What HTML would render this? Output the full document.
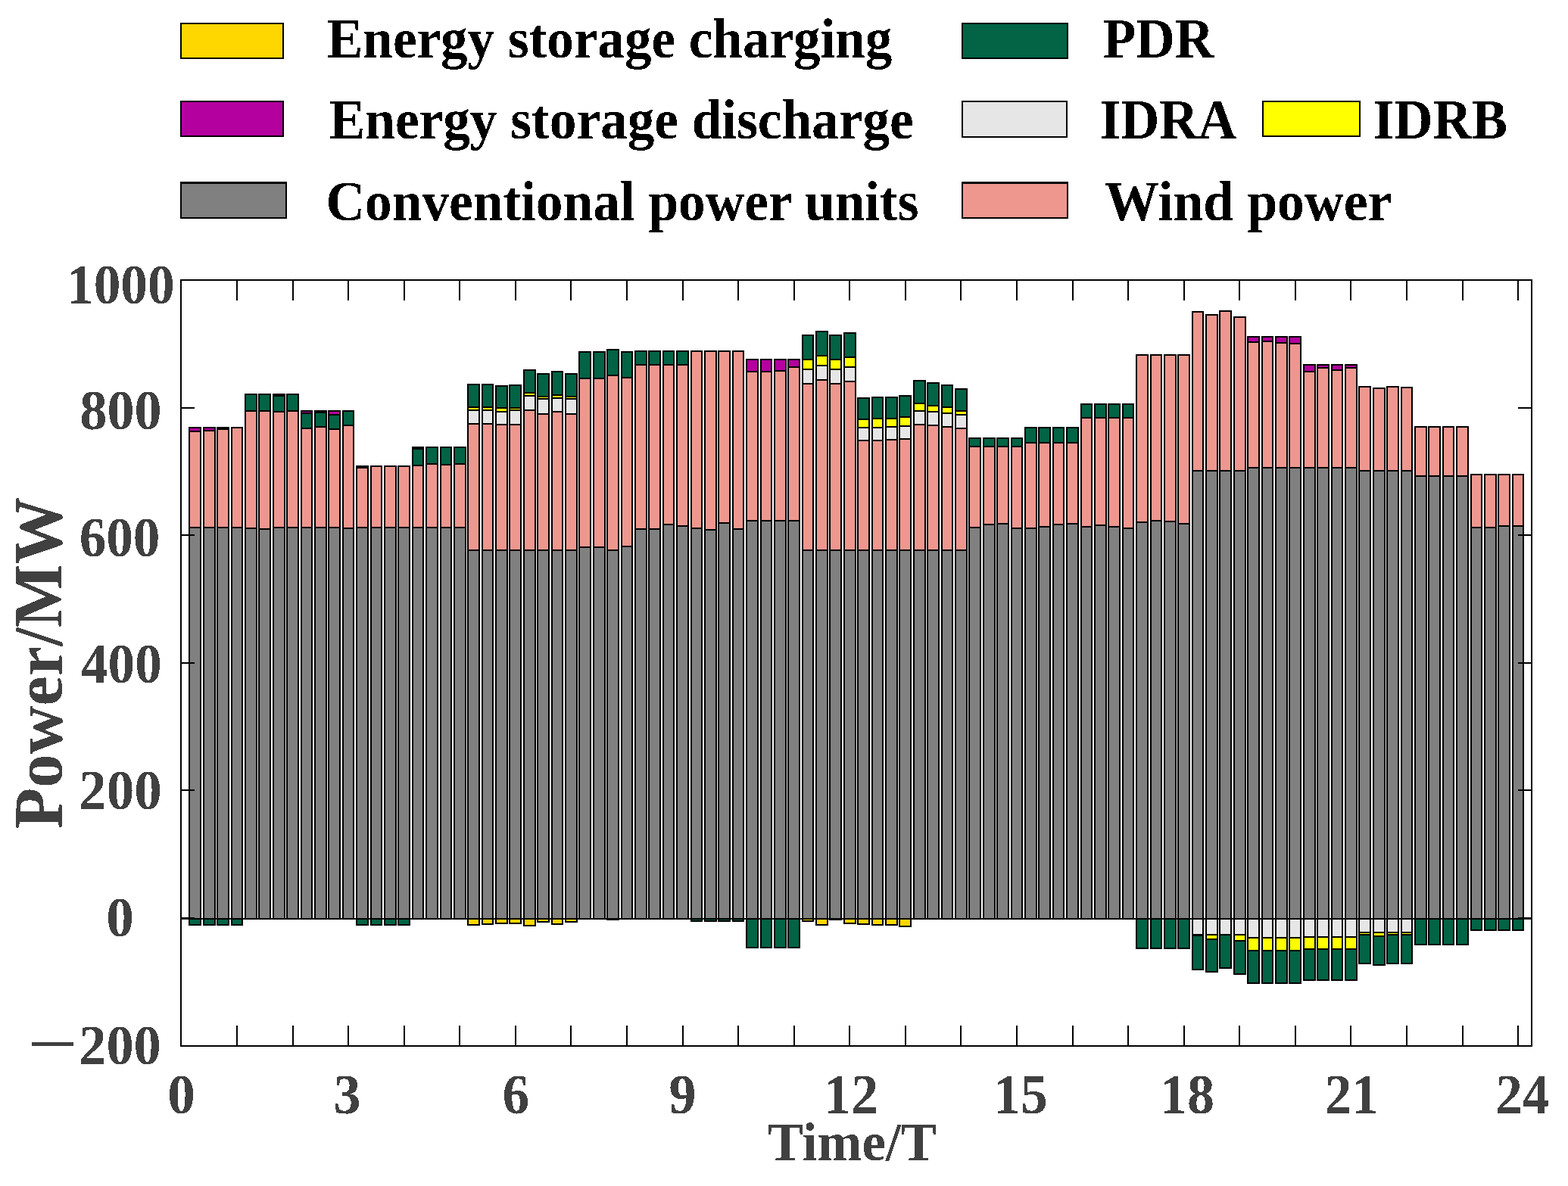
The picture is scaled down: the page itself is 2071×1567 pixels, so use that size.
<!DOCTYPE html>
<html><head><meta charset="utf-8"><style>
html,body{margin:0;padding:0;background:#fff;}
svg{display:block;}
text{font-family:"Liberation Serif",serif;font-weight:bold;}
</style></head><body>
<svg width="2071" height="1567" viewBox="0 0 2071 1567">
<rect x="0" y="0" width="2071" height="1567" fill="#fff"/>
<line x1="239" y1="1213.5" x2="2023" y2="1213.5" stroke="#1a1a1a" stroke-width="2" shape-rendering="crispEdges"/>
<g stroke="#000" stroke-width="2" shape-rendering="crispEdges">
<rect x="250.44" y="696.60" width="14.71" height="516.90" fill="#808080"/>
<rect x="268.83" y="696.60" width="14.71" height="516.90" fill="#808080"/>
<rect x="287.22" y="696.60" width="14.71" height="516.90" fill="#808080"/>
<rect x="305.61" y="696.60" width="14.71" height="516.90" fill="#808080"/>
<rect x="324.01" y="697.70" width="14.71" height="515.80" fill="#808080"/>
<rect x="342.40" y="698.80" width="14.71" height="514.70" fill="#808080"/>
<rect x="360.79" y="696.90" width="14.71" height="516.60" fill="#808080"/>
<rect x="379.18" y="697.40" width="14.71" height="516.10" fill="#808080"/>
<rect x="397.58" y="696.90" width="14.71" height="516.60" fill="#808080"/>
<rect x="415.97" y="696.90" width="14.71" height="516.60" fill="#808080"/>
<rect x="434.36" y="696.90" width="14.71" height="516.60" fill="#808080"/>
<rect x="452.75" y="697.70" width="14.71" height="515.80" fill="#808080"/>
<rect x="471.15" y="696.80" width="14.71" height="516.70" fill="#808080"/>
<rect x="489.54" y="696.80" width="14.71" height="516.70" fill="#808080"/>
<rect x="507.93" y="696.80" width="14.71" height="516.70" fill="#808080"/>
<rect x="526.32" y="696.80" width="14.71" height="516.70" fill="#808080"/>
<rect x="544.72" y="696.80" width="14.71" height="516.70" fill="#808080"/>
<rect x="563.11" y="696.80" width="14.71" height="516.70" fill="#808080"/>
<rect x="581.50" y="696.80" width="14.71" height="516.70" fill="#808080"/>
<rect x="599.89" y="696.80" width="14.71" height="516.70" fill="#808080"/>
<rect x="618.29" y="726.60" width="14.71" height="486.90" fill="#808080"/>
<rect x="636.68" y="726.60" width="14.71" height="486.90" fill="#808080"/>
<rect x="655.07" y="726.60" width="14.71" height="486.90" fill="#808080"/>
<rect x="673.46" y="726.60" width="14.71" height="486.90" fill="#808080"/>
<rect x="691.86" y="726.60" width="14.71" height="486.90" fill="#808080"/>
<rect x="710.25" y="726.60" width="14.71" height="486.90" fill="#808080"/>
<rect x="728.64" y="726.60" width="14.71" height="486.90" fill="#808080"/>
<rect x="747.03" y="726.60" width="14.71" height="486.90" fill="#808080"/>
<rect x="765.43" y="723.00" width="14.71" height="490.50" fill="#808080"/>
<rect x="783.82" y="723.00" width="14.71" height="490.50" fill="#808080"/>
<rect x="802.21" y="726.60" width="14.71" height="486.90" fill="#808080"/>
<rect x="820.60" y="722.00" width="14.71" height="491.50" fill="#808080"/>
<rect x="839.00" y="698.50" width="14.71" height="515.00" fill="#808080"/>
<rect x="857.39" y="698.50" width="14.71" height="515.00" fill="#808080"/>
<rect x="875.78" y="692.80" width="14.71" height="520.70" fill="#808080"/>
<rect x="894.17" y="694.60" width="14.71" height="518.90" fill="#808080"/>
<rect x="912.57" y="698.00" width="14.71" height="515.50" fill="#808080"/>
<rect x="930.96" y="700.00" width="14.71" height="513.50" fill="#808080"/>
<rect x="949.35" y="690.70" width="14.71" height="522.80" fill="#808080"/>
<rect x="967.74" y="699.00" width="14.71" height="514.50" fill="#808080"/>
<rect x="986.14" y="687.80" width="14.71" height="525.70" fill="#808080"/>
<rect x="1004.53" y="687.80" width="14.71" height="525.70" fill="#808080"/>
<rect x="1022.92" y="687.80" width="14.71" height="525.70" fill="#808080"/>
<rect x="1041.31" y="687.80" width="14.71" height="525.70" fill="#808080"/>
<rect x="1059.71" y="727.10" width="14.71" height="486.40" fill="#808080"/>
<rect x="1078.10" y="727.10" width="14.71" height="486.40" fill="#808080"/>
<rect x="1096.49" y="727.10" width="14.71" height="486.40" fill="#808080"/>
<rect x="1114.88" y="727.00" width="14.71" height="486.50" fill="#808080"/>
<rect x="1133.28" y="727.00" width="14.71" height="486.50" fill="#808080"/>
<rect x="1151.67" y="727.00" width="14.71" height="486.50" fill="#808080"/>
<rect x="1170.06" y="727.00" width="14.71" height="486.50" fill="#808080"/>
<rect x="1188.45" y="727.00" width="14.71" height="486.50" fill="#808080"/>
<rect x="1206.85" y="727.00" width="14.71" height="486.50" fill="#808080"/>
<rect x="1225.24" y="727.00" width="14.71" height="486.50" fill="#808080"/>
<rect x="1243.63" y="727.00" width="14.71" height="486.50" fill="#808080"/>
<rect x="1262.02" y="727.00" width="14.71" height="486.50" fill="#808080"/>
<rect x="1280.42" y="697.00" width="14.71" height="516.50" fill="#808080"/>
<rect x="1298.81" y="692.60" width="14.71" height="520.90" fill="#808080"/>
<rect x="1317.20" y="691.90" width="14.71" height="521.60" fill="#808080"/>
<rect x="1335.59" y="698.00" width="14.71" height="515.50" fill="#808080"/>
<rect x="1353.99" y="697.80" width="14.71" height="515.70" fill="#808080"/>
<rect x="1372.38" y="696.00" width="14.71" height="517.50" fill="#808080"/>
<rect x="1390.77" y="693.20" width="14.71" height="520.30" fill="#808080"/>
<rect x="1409.16" y="692.00" width="14.71" height="521.50" fill="#808080"/>
<rect x="1427.56" y="696.00" width="14.71" height="517.50" fill="#808080"/>
<rect x="1445.95" y="694.00" width="14.71" height="519.50" fill="#808080"/>
<rect x="1464.34" y="695.60" width="14.71" height="517.90" fill="#808080"/>
<rect x="1482.73" y="697.80" width="14.71" height="515.70" fill="#808080"/>
<rect x="1501.13" y="690.20" width="14.71" height="523.30" fill="#808080"/>
<rect x="1519.52" y="688.20" width="14.71" height="525.30" fill="#808080"/>
<rect x="1537.91" y="689.00" width="14.71" height="524.50" fill="#808080"/>
<rect x="1556.30" y="692.00" width="14.71" height="521.50" fill="#808080"/>
<rect x="1574.70" y="622.40" width="14.71" height="591.10" fill="#808080"/>
<rect x="1593.09" y="621.80" width="14.71" height="591.70" fill="#808080"/>
<rect x="1611.48" y="622.40" width="14.71" height="591.10" fill="#808080"/>
<rect x="1629.87" y="621.60" width="14.71" height="591.90" fill="#808080"/>
<rect x="1648.27" y="617.50" width="14.71" height="596.00" fill="#808080"/>
<rect x="1666.66" y="617.50" width="14.71" height="596.00" fill="#808080"/>
<rect x="1685.05" y="617.50" width="14.71" height="596.00" fill="#808080"/>
<rect x="1703.44" y="617.50" width="14.71" height="596.00" fill="#808080"/>
<rect x="1721.84" y="617.50" width="14.71" height="596.00" fill="#808080"/>
<rect x="1740.23" y="617.50" width="14.71" height="596.00" fill="#808080"/>
<rect x="1758.62" y="617.50" width="14.71" height="596.00" fill="#808080"/>
<rect x="1777.01" y="617.50" width="14.71" height="596.00" fill="#808080"/>
<rect x="1795.41" y="621.70" width="14.71" height="591.80" fill="#808080"/>
<rect x="1813.80" y="621.70" width="14.71" height="591.80" fill="#808080"/>
<rect x="1832.19" y="621.70" width="14.71" height="591.80" fill="#808080"/>
<rect x="1850.58" y="621.70" width="14.71" height="591.80" fill="#808080"/>
<rect x="1868.98" y="628.70" width="14.71" height="584.80" fill="#808080"/>
<rect x="1887.37" y="629.40" width="14.71" height="584.10" fill="#808080"/>
<rect x="1905.76" y="628.70" width="14.71" height="584.80" fill="#808080"/>
<rect x="1924.15" y="629.40" width="14.71" height="584.10" fill="#808080"/>
<rect x="1942.55" y="696.50" width="14.71" height="517.00" fill="#808080"/>
<rect x="1960.94" y="696.50" width="14.71" height="517.00" fill="#808080"/>
<rect x="1979.33" y="694.80" width="14.71" height="518.70" fill="#808080"/>
<rect x="1997.72" y="694.80" width="14.71" height="518.70" fill="#808080"/>
<rect x="250.44" y="569.80" width="14.71" height="126.80" fill="#EE978F"/>
<rect x="268.83" y="568.80" width="14.71" height="127.80" fill="#EE978F"/>
<rect x="287.22" y="566.50" width="14.71" height="130.10" fill="#EE978F"/>
<rect x="305.61" y="564.90" width="14.71" height="131.70" fill="#EE978F"/>
<rect x="324.01" y="542.80" width="14.71" height="154.90" fill="#EE978F"/>
<rect x="342.40" y="542.80" width="14.71" height="156.00" fill="#EE978F"/>
<rect x="360.79" y="544.20" width="14.71" height="152.70" fill="#EE978F"/>
<rect x="379.18" y="542.80" width="14.71" height="154.60" fill="#EE978F"/>
<rect x="397.58" y="566.00" width="14.71" height="130.90" fill="#EE978F"/>
<rect x="415.97" y="564.20" width="14.71" height="132.70" fill="#EE978F"/>
<rect x="434.36" y="567.00" width="14.71" height="129.90" fill="#EE978F"/>
<rect x="452.75" y="562.10" width="14.71" height="135.60" fill="#EE978F"/>
<rect x="471.15" y="617.50" width="14.71" height="79.30" fill="#EE978F"/>
<rect x="489.54" y="616.10" width="14.71" height="80.70" fill="#EE978F"/>
<rect x="507.93" y="616.10" width="14.71" height="80.70" fill="#EE978F"/>
<rect x="526.32" y="616.10" width="14.71" height="80.70" fill="#EE978F"/>
<rect x="544.72" y="614.90" width="14.71" height="81.90" fill="#EE978F"/>
<rect x="563.11" y="613.00" width="14.71" height="83.80" fill="#EE978F"/>
<rect x="581.50" y="614.10" width="14.71" height="82.70" fill="#EE978F"/>
<rect x="599.89" y="613.00" width="14.71" height="83.80" fill="#EE978F"/>
<rect x="618.29" y="559.70" width="14.71" height="166.90" fill="#EE978F"/>
<rect x="636.68" y="559.70" width="14.71" height="166.90" fill="#EE978F"/>
<rect x="655.07" y="560.80" width="14.71" height="165.80" fill="#EE978F"/>
<rect x="673.46" y="560.70" width="14.71" height="165.90" fill="#EE978F"/>
<rect x="691.86" y="541.80" width="14.71" height="184.80" fill="#EE978F"/>
<rect x="710.25" y="546.60" width="14.71" height="180.00" fill="#EE978F"/>
<rect x="728.64" y="544.40" width="14.71" height="182.20" fill="#EE978F"/>
<rect x="747.03" y="546.60" width="14.71" height="180.00" fill="#EE978F"/>
<rect x="765.43" y="500.00" width="14.71" height="223.00" fill="#EE978F"/>
<rect x="783.82" y="500.00" width="14.71" height="223.00" fill="#EE978F"/>
<rect x="802.21" y="495.90" width="14.71" height="230.70" fill="#EE978F"/>
<rect x="820.60" y="499.00" width="14.71" height="223.00" fill="#EE978F"/>
<rect x="839.00" y="481.80" width="14.71" height="216.70" fill="#EE978F"/>
<rect x="857.39" y="481.80" width="14.71" height="216.70" fill="#EE978F"/>
<rect x="875.78" y="481.80" width="14.71" height="211.00" fill="#EE978F"/>
<rect x="894.17" y="482.00" width="14.71" height="212.60" fill="#EE978F"/>
<rect x="912.57" y="464.00" width="14.71" height="234.00" fill="#EE978F"/>
<rect x="930.96" y="464.00" width="14.71" height="236.00" fill="#EE978F"/>
<rect x="949.35" y="464.00" width="14.71" height="226.70" fill="#EE978F"/>
<rect x="967.74" y="464.00" width="14.71" height="235.00" fill="#EE978F"/>
<rect x="986.14" y="490.70" width="14.71" height="197.10" fill="#EE978F"/>
<rect x="1004.53" y="490.70" width="14.71" height="197.10" fill="#EE978F"/>
<rect x="1022.92" y="489.90" width="14.71" height="197.90" fill="#EE978F"/>
<rect x="1041.31" y="484.80" width="14.71" height="203.00" fill="#EE978F"/>
<rect x="1059.71" y="506.50" width="14.71" height="220.60" fill="#EE978F"/>
<rect x="1078.10" y="501.80" width="14.71" height="225.30" fill="#EE978F"/>
<rect x="1096.49" y="506.50" width="14.71" height="220.60" fill="#EE978F"/>
<rect x="1114.88" y="503.70" width="14.71" height="223.30" fill="#EE978F"/>
<rect x="1133.28" y="582.20" width="14.71" height="144.80" fill="#EE978F"/>
<rect x="1151.67" y="582.20" width="14.71" height="144.80" fill="#EE978F"/>
<rect x="1170.06" y="581.00" width="14.71" height="146.00" fill="#EE978F"/>
<rect x="1188.45" y="580.20" width="14.71" height="146.80" fill="#EE978F"/>
<rect x="1206.85" y="561.00" width="14.71" height="166.00" fill="#EE978F"/>
<rect x="1225.24" y="562.10" width="14.71" height="164.90" fill="#EE978F"/>
<rect x="1243.63" y="563.90" width="14.71" height="163.10" fill="#EE978F"/>
<rect x="1262.02" y="565.80" width="14.71" height="161.20" fill="#EE978F"/>
<rect x="1280.42" y="590.00" width="14.71" height="107.00" fill="#EE978F"/>
<rect x="1298.81" y="590.00" width="14.71" height="102.60" fill="#EE978F"/>
<rect x="1317.20" y="590.00" width="14.71" height="101.90" fill="#EE978F"/>
<rect x="1335.59" y="589.50" width="14.71" height="108.50" fill="#EE978F"/>
<rect x="1353.99" y="584.90" width="14.71" height="112.90" fill="#EE978F"/>
<rect x="1372.38" y="584.90" width="14.71" height="111.10" fill="#EE978F"/>
<rect x="1390.77" y="584.90" width="14.71" height="108.30" fill="#EE978F"/>
<rect x="1409.16" y="584.90" width="14.71" height="107.10" fill="#EE978F"/>
<rect x="1427.56" y="551.70" width="14.71" height="144.30" fill="#EE978F"/>
<rect x="1445.95" y="551.70" width="14.71" height="142.30" fill="#EE978F"/>
<rect x="1464.34" y="551.70" width="14.71" height="143.90" fill="#EE978F"/>
<rect x="1482.73" y="551.70" width="14.71" height="146.10" fill="#EE978F"/>
<rect x="1501.13" y="469.10" width="14.71" height="221.10" fill="#EE978F"/>
<rect x="1519.52" y="469.10" width="14.71" height="219.10" fill="#EE978F"/>
<rect x="1537.91" y="469.10" width="14.71" height="219.90" fill="#EE978F"/>
<rect x="1556.30" y="469.10" width="14.71" height="222.90" fill="#EE978F"/>
<rect x="1574.70" y="411.80" width="14.71" height="210.60" fill="#EE978F"/>
<rect x="1593.09" y="415.90" width="14.71" height="205.90" fill="#EE978F"/>
<rect x="1611.48" y="410.90" width="14.71" height="211.50" fill="#EE978F"/>
<rect x="1629.87" y="418.80" width="14.71" height="202.80" fill="#EE978F"/>
<rect x="1648.27" y="452.10" width="14.71" height="165.40" fill="#EE978F"/>
<rect x="1666.66" y="450.80" width="14.71" height="166.70" fill="#EE978F"/>
<rect x="1685.05" y="452.80" width="14.71" height="164.70" fill="#EE978F"/>
<rect x="1703.44" y="453.90" width="14.71" height="163.60" fill="#EE978F"/>
<rect x="1721.84" y="490.80" width="14.71" height="126.70" fill="#EE978F"/>
<rect x="1740.23" y="486.10" width="14.71" height="131.40" fill="#EE978F"/>
<rect x="1758.62" y="488.80" width="14.71" height="128.70" fill="#EE978F"/>
<rect x="1777.01" y="486.10" width="14.71" height="131.40" fill="#EE978F"/>
<rect x="1795.41" y="510.80" width="14.71" height="110.90" fill="#EE978F"/>
<rect x="1813.80" y="512.90" width="14.71" height="108.80" fill="#EE978F"/>
<rect x="1832.19" y="510.80" width="14.71" height="110.90" fill="#EE978F"/>
<rect x="1850.58" y="511.70" width="14.71" height="110.00" fill="#EE978F"/>
<rect x="1868.98" y="563.90" width="14.71" height="64.80" fill="#EE978F"/>
<rect x="1887.37" y="563.90" width="14.71" height="65.50" fill="#EE978F"/>
<rect x="1905.76" y="563.90" width="14.71" height="64.80" fill="#EE978F"/>
<rect x="1924.15" y="563.90" width="14.71" height="65.50" fill="#EE978F"/>
<rect x="1942.55" y="626.80" width="14.71" height="69.70" fill="#EE978F"/>
<rect x="1960.94" y="626.80" width="14.71" height="69.70" fill="#EE978F"/>
<rect x="1979.33" y="626.80" width="14.71" height="68.00" fill="#EE978F"/>
<rect x="1997.72" y="626.80" width="14.71" height="68.00" fill="#EE978F"/>
<rect x="618.29" y="542.00" width="14.71" height="17.70" fill="#E6E6E6"/>
<rect x="636.68" y="541.70" width="14.71" height="18.00" fill="#E6E6E6"/>
<rect x="655.07" y="543.60" width="14.71" height="17.20" fill="#E6E6E6"/>
<rect x="673.46" y="542.20" width="14.71" height="18.50" fill="#E6E6E6"/>
<rect x="691.86" y="523.30" width="14.71" height="18.50" fill="#E6E6E6"/>
<rect x="710.25" y="527.40" width="14.71" height="19.20" fill="#E6E6E6"/>
<rect x="728.64" y="525.50" width="14.71" height="18.90" fill="#E6E6E6"/>
<rect x="747.03" y="527.40" width="14.71" height="19.20" fill="#E6E6E6"/>
<rect x="1059.71" y="487.90" width="14.71" height="18.60" fill="#E6E6E6"/>
<rect x="1078.10" y="483.40" width="14.71" height="18.40" fill="#E6E6E6"/>
<rect x="1096.49" y="487.90" width="14.71" height="18.60" fill="#E6E6E6"/>
<rect x="1114.88" y="485.00" width="14.71" height="18.70" fill="#E6E6E6"/>
<rect x="1133.28" y="565.00" width="14.71" height="17.20" fill="#E6E6E6"/>
<rect x="1151.67" y="565.00" width="14.71" height="17.20" fill="#E6E6E6"/>
<rect x="1170.06" y="563.90" width="14.71" height="17.10" fill="#E6E6E6"/>
<rect x="1188.45" y="562.90" width="14.71" height="17.30" fill="#E6E6E6"/>
<rect x="1206.85" y="543.00" width="14.71" height="18.00" fill="#E6E6E6"/>
<rect x="1225.24" y="543.90" width="14.71" height="18.20" fill="#E6E6E6"/>
<rect x="1243.63" y="545.80" width="14.71" height="18.10" fill="#E6E6E6"/>
<rect x="1262.02" y="547.80" width="14.71" height="18.00" fill="#E6E6E6"/>
<rect x="618.29" y="538.00" width="14.71" height="4.00" fill="#FFFF00"/>
<rect x="636.68" y="538.00" width="14.71" height="3.70" fill="#FFFF00"/>
<rect x="655.07" y="539.00" width="14.71" height="4.60" fill="#FFFF00"/>
<rect x="673.46" y="538.80" width="14.71" height="3.40" fill="#FFFF00"/>
<rect x="691.86" y="518.50" width="14.71" height="4.80" fill="#FFFF00"/>
<rect x="710.25" y="523.60" width="14.71" height="3.80" fill="#FFFF00"/>
<rect x="728.64" y="521.80" width="14.71" height="3.70" fill="#FFFF00"/>
<rect x="747.03" y="523.60" width="14.71" height="3.80" fill="#FFFF00"/>
<rect x="1059.71" y="474.90" width="14.71" height="13.00" fill="#FFFF00"/>
<rect x="1078.10" y="470.10" width="14.71" height="13.30" fill="#FFFF00"/>
<rect x="1096.49" y="474.90" width="14.71" height="13.00" fill="#FFFF00"/>
<rect x="1114.88" y="472.10" width="14.71" height="12.90" fill="#FFFF00"/>
<rect x="1133.28" y="553.80" width="14.71" height="11.20" fill="#FFFF00"/>
<rect x="1151.67" y="553.00" width="14.71" height="12.00" fill="#FFFF00"/>
<rect x="1170.06" y="553.00" width="14.71" height="10.90" fill="#FFFF00"/>
<rect x="1188.45" y="551.00" width="14.71" height="11.90" fill="#FFFF00"/>
<rect x="1206.85" y="533.10" width="14.71" height="9.90" fill="#FFFF00"/>
<rect x="1225.24" y="535.80" width="14.71" height="8.10" fill="#FFFF00"/>
<rect x="1243.63" y="538.20" width="14.71" height="7.60" fill="#FFFF00"/>
<rect x="1262.02" y="543.00" width="14.71" height="4.80" fill="#FFFF00"/>
<rect x="324.01" y="520.80" width="14.71" height="22.00" fill="#026345"/>
<rect x="342.40" y="520.80" width="14.71" height="22.00" fill="#026345"/>
<rect x="360.79" y="522.50" width="14.71" height="21.70" fill="#026345"/>
<rect x="379.18" y="520.80" width="14.71" height="22.00" fill="#026345"/>
<rect x="397.58" y="545.90" width="14.71" height="20.10" fill="#026345"/>
<rect x="415.97" y="544.60" width="14.71" height="19.60" fill="#026345"/>
<rect x="434.36" y="547.70" width="14.71" height="19.30" fill="#026345"/>
<rect x="452.75" y="542.80" width="14.71" height="19.30" fill="#026345"/>
<rect x="544.72" y="592.50" width="14.71" height="22.40" fill="#026345"/>
<rect x="563.11" y="591.10" width="14.71" height="21.90" fill="#026345"/>
<rect x="581.50" y="591.10" width="14.71" height="23.00" fill="#026345"/>
<rect x="599.89" y="591.10" width="14.71" height="21.90" fill="#026345"/>
<rect x="618.29" y="508.00" width="14.71" height="30.00" fill="#026345"/>
<rect x="636.68" y="508.00" width="14.71" height="30.00" fill="#026345"/>
<rect x="655.07" y="509.60" width="14.71" height="29.40" fill="#026345"/>
<rect x="673.46" y="508.80" width="14.71" height="30.00" fill="#026345"/>
<rect x="691.86" y="488.90" width="14.71" height="29.60" fill="#026345"/>
<rect x="710.25" y="493.90" width="14.71" height="29.70" fill="#026345"/>
<rect x="728.64" y="490.70" width="14.71" height="31.10" fill="#026345"/>
<rect x="747.03" y="493.90" width="14.71" height="29.70" fill="#026345"/>
<rect x="765.43" y="464.80" width="14.71" height="35.20" fill="#026345"/>
<rect x="783.82" y="464.80" width="14.71" height="35.20" fill="#026345"/>
<rect x="802.21" y="462.00" width="14.71" height="33.90" fill="#026345"/>
<rect x="820.60" y="464.80" width="14.71" height="34.20" fill="#026345"/>
<rect x="839.00" y="463.90" width="14.71" height="17.90" fill="#026345"/>
<rect x="857.39" y="463.90" width="14.71" height="17.90" fill="#026345"/>
<rect x="875.78" y="463.90" width="14.71" height="17.90" fill="#026345"/>
<rect x="894.17" y="464.20" width="14.71" height="17.80" fill="#026345"/>
<rect x="1059.71" y="443.20" width="14.71" height="31.70" fill="#026345"/>
<rect x="1078.10" y="438.30" width="14.71" height="31.80" fill="#026345"/>
<rect x="1096.49" y="443.20" width="14.71" height="31.70" fill="#026345"/>
<rect x="1114.88" y="440.20" width="14.71" height="31.90" fill="#026345"/>
<rect x="1133.28" y="525.90" width="14.71" height="27.90" fill="#026345"/>
<rect x="1151.67" y="524.80" width="14.71" height="28.20" fill="#026345"/>
<rect x="1170.06" y="524.80" width="14.71" height="28.20" fill="#026345"/>
<rect x="1188.45" y="523.00" width="14.71" height="28.00" fill="#026345"/>
<rect x="1206.85" y="502.80" width="14.71" height="30.30" fill="#026345"/>
<rect x="1225.24" y="506.00" width="14.71" height="29.80" fill="#026345"/>
<rect x="1243.63" y="508.80" width="14.71" height="29.40" fill="#026345"/>
<rect x="1262.02" y="513.90" width="14.71" height="29.10" fill="#026345"/>
<rect x="1280.42" y="578.90" width="14.71" height="11.10" fill="#026345"/>
<rect x="1298.81" y="578.90" width="14.71" height="11.10" fill="#026345"/>
<rect x="1317.20" y="578.90" width="14.71" height="11.10" fill="#026345"/>
<rect x="1335.59" y="579.00" width="14.71" height="10.50" fill="#026345"/>
<rect x="1353.99" y="565.00" width="14.71" height="19.90" fill="#026345"/>
<rect x="1372.38" y="565.00" width="14.71" height="19.90" fill="#026345"/>
<rect x="1390.77" y="565.00" width="14.71" height="19.90" fill="#026345"/>
<rect x="1409.16" y="565.00" width="14.71" height="19.90" fill="#026345"/>
<rect x="1427.56" y="534.10" width="14.71" height="17.60" fill="#026345"/>
<rect x="1445.95" y="534.10" width="14.71" height="17.60" fill="#026345"/>
<rect x="1464.34" y="534.10" width="14.71" height="17.60" fill="#026345"/>
<rect x="1482.73" y="534.10" width="14.71" height="17.60" fill="#026345"/>
<rect x="250.44" y="564.90" width="14.71" height="4.90" fill="#B4009E"/>
<rect x="268.83" y="564.90" width="14.71" height="3.90" fill="#B4009E"/>
<rect x="287.22" y="565.20" width="14.71" height="1.30" fill="#B4009E"/>
<rect x="360.79" y="521.10" width="14.71" height="1.40" fill="#B4009E"/>
<rect x="397.58" y="542.80" width="14.71" height="3.10" fill="#B4009E"/>
<rect x="415.97" y="542.80" width="14.71" height="1.80" fill="#B4009E"/>
<rect x="434.36" y="542.80" width="14.71" height="4.90" fill="#B4009E"/>
<rect x="471.15" y="616.10" width="14.71" height="1.40" fill="#B4009E"/>
<rect x="544.72" y="591.10" width="14.71" height="1.40" fill="#B4009E"/>
<rect x="986.14" y="475.10" width="14.71" height="15.60" fill="#B4009E"/>
<rect x="1004.53" y="475.10" width="14.71" height="15.60" fill="#B4009E"/>
<rect x="1022.92" y="475.10" width="14.71" height="14.80" fill="#B4009E"/>
<rect x="1041.31" y="475.10" width="14.71" height="9.70" fill="#B4009E"/>
<rect x="1648.27" y="444.90" width="14.71" height="7.20" fill="#B4009E"/>
<rect x="1666.66" y="444.90" width="14.71" height="5.90" fill="#B4009E"/>
<rect x="1685.05" y="444.90" width="14.71" height="7.90" fill="#B4009E"/>
<rect x="1703.44" y="444.90" width="14.71" height="9.00" fill="#B4009E"/>
<rect x="1721.84" y="481.90" width="14.71" height="8.90" fill="#B4009E"/>
<rect x="1740.23" y="481.90" width="14.71" height="4.20" fill="#B4009E"/>
<rect x="1758.62" y="481.90" width="14.71" height="6.90" fill="#B4009E"/>
<rect x="1777.01" y="481.90" width="14.71" height="4.20" fill="#B4009E"/>
<rect x="1574.70" y="1213.50" width="14.71" height="21.30" fill="#E6E6E6"/>
<rect x="1593.09" y="1213.50" width="14.71" height="21.00" fill="#E6E6E6"/>
<rect x="1611.48" y="1213.50" width="14.71" height="21.30" fill="#E6E6E6"/>
<rect x="1629.87" y="1213.50" width="14.71" height="21.30" fill="#E6E6E6"/>
<rect x="1648.27" y="1213.50" width="14.71" height="25.30" fill="#E6E6E6"/>
<rect x="1666.66" y="1213.50" width="14.71" height="25.30" fill="#E6E6E6"/>
<rect x="1685.05" y="1213.50" width="14.71" height="25.30" fill="#E6E6E6"/>
<rect x="1703.44" y="1213.50" width="14.71" height="25.30" fill="#E6E6E6"/>
<rect x="1721.84" y="1213.50" width="14.71" height="24.20" fill="#E6E6E6"/>
<rect x="1740.23" y="1213.50" width="14.71" height="24.20" fill="#E6E6E6"/>
<rect x="1758.62" y="1213.50" width="14.71" height="24.20" fill="#E6E6E6"/>
<rect x="1777.01" y="1213.50" width="14.71" height="24.20" fill="#E6E6E6"/>
<rect x="1795.41" y="1213.50" width="14.71" height="18.30" fill="#E6E6E6"/>
<rect x="1813.80" y="1213.50" width="14.71" height="18.30" fill="#E6E6E6"/>
<rect x="1832.19" y="1213.50" width="14.71" height="18.30" fill="#E6E6E6"/>
<rect x="1850.58" y="1213.50" width="14.71" height="18.30" fill="#E6E6E6"/>
<rect x="1574.70" y="1234.80" width="14.71" height="1.40" fill="#FFFF00"/>
<rect x="1593.09" y="1234.50" width="14.71" height="6.60" fill="#FFFF00"/>
<rect x="1629.87" y="1234.80" width="14.71" height="8.10" fill="#FFFF00"/>
<rect x="1648.27" y="1238.80" width="14.71" height="17.20" fill="#FFFF00"/>
<rect x="1666.66" y="1238.80" width="14.71" height="17.20" fill="#FFFF00"/>
<rect x="1685.05" y="1238.80" width="14.71" height="17.20" fill="#FFFF00"/>
<rect x="1703.44" y="1238.80" width="14.71" height="17.20" fill="#FFFF00"/>
<rect x="1721.84" y="1237.70" width="14.71" height="16.20" fill="#FFFF00"/>
<rect x="1740.23" y="1237.70" width="14.71" height="16.20" fill="#FFFF00"/>
<rect x="1758.62" y="1237.70" width="14.71" height="16.20" fill="#FFFF00"/>
<rect x="1777.01" y="1237.70" width="14.71" height="16.20" fill="#FFFF00"/>
<rect x="1795.41" y="1231.80" width="14.71" height="3.50" fill="#FFFF00"/>
<rect x="1813.80" y="1231.80" width="14.71" height="5.20" fill="#FFFF00"/>
<rect x="1832.19" y="1231.80" width="14.71" height="3.20" fill="#FFFF00"/>
<rect x="1850.58" y="1231.80" width="14.71" height="3.20" fill="#FFFF00"/>
<rect x="250.44" y="1213.50" width="14.71" height="8.50" fill="#026345"/>
<rect x="268.83" y="1213.50" width="14.71" height="8.50" fill="#026345"/>
<rect x="287.22" y="1213.50" width="14.71" height="8.50" fill="#026345"/>
<rect x="305.61" y="1213.50" width="14.71" height="8.50" fill="#026345"/>
<rect x="471.15" y="1213.50" width="14.71" height="8.50" fill="#026345"/>
<rect x="489.54" y="1213.50" width="14.71" height="8.50" fill="#026345"/>
<rect x="507.93" y="1213.50" width="14.71" height="8.50" fill="#026345"/>
<rect x="526.32" y="1213.50" width="14.71" height="8.50" fill="#026345"/>
<rect x="912.57" y="1213.50" width="14.71" height="3.60" fill="#026345"/>
<rect x="930.96" y="1213.50" width="14.71" height="3.60" fill="#026345"/>
<rect x="949.35" y="1213.50" width="14.71" height="3.60" fill="#026345"/>
<rect x="967.74" y="1213.50" width="14.71" height="3.60" fill="#026345"/>
<rect x="986.14" y="1213.50" width="14.71" height="38.70" fill="#026345"/>
<rect x="1004.53" y="1213.50" width="14.71" height="38.70" fill="#026345"/>
<rect x="1022.92" y="1213.50" width="14.71" height="38.70" fill="#026345"/>
<rect x="1041.31" y="1213.50" width="14.71" height="38.70" fill="#026345"/>
<rect x="1501.13" y="1213.50" width="14.71" height="39.60" fill="#026345"/>
<rect x="1519.52" y="1213.50" width="14.71" height="39.60" fill="#026345"/>
<rect x="1537.91" y="1213.50" width="14.71" height="39.60" fill="#026345"/>
<rect x="1556.30" y="1213.50" width="14.71" height="39.60" fill="#026345"/>
<rect x="1574.70" y="1236.20" width="14.71" height="44.90" fill="#026345"/>
<rect x="1593.09" y="1241.10" width="14.71" height="42.90" fill="#026345"/>
<rect x="1611.48" y="1234.80" width="14.71" height="44.40" fill="#026345"/>
<rect x="1629.87" y="1242.90" width="14.71" height="44.00" fill="#026345"/>
<rect x="1648.27" y="1256.00" width="14.71" height="43.10" fill="#026345"/>
<rect x="1666.66" y="1256.00" width="14.71" height="43.10" fill="#026345"/>
<rect x="1685.05" y="1256.00" width="14.71" height="43.10" fill="#026345"/>
<rect x="1703.44" y="1256.00" width="14.71" height="43.10" fill="#026345"/>
<rect x="1721.84" y="1253.90" width="14.71" height="41.10" fill="#026345"/>
<rect x="1740.23" y="1253.90" width="14.71" height="41.10" fill="#026345"/>
<rect x="1758.62" y="1253.90" width="14.71" height="41.10" fill="#026345"/>
<rect x="1777.01" y="1253.90" width="14.71" height="41.10" fill="#026345"/>
<rect x="1795.41" y="1235.30" width="14.71" height="37.50" fill="#026345"/>
<rect x="1813.80" y="1237.00" width="14.71" height="37.70" fill="#026345"/>
<rect x="1832.19" y="1235.00" width="14.71" height="37.80" fill="#026345"/>
<rect x="1850.58" y="1235.00" width="14.71" height="37.80" fill="#026345"/>
<rect x="1868.98" y="1213.50" width="14.71" height="34.40" fill="#026345"/>
<rect x="1887.37" y="1213.50" width="14.71" height="34.50" fill="#026345"/>
<rect x="1905.76" y="1213.50" width="14.71" height="34.50" fill="#026345"/>
<rect x="1924.15" y="1213.50" width="14.71" height="34.50" fill="#026345"/>
<rect x="1942.55" y="1213.50" width="14.71" height="15.40" fill="#026345"/>
<rect x="1960.94" y="1213.50" width="14.71" height="15.40" fill="#026345"/>
<rect x="1979.33" y="1213.50" width="14.71" height="15.40" fill="#026345"/>
<rect x="1997.72" y="1213.50" width="14.71" height="15.40" fill="#026345"/>
<rect x="618.29" y="1213.50" width="14.71" height="8.20" fill="#FFD700"/>
<rect x="636.68" y="1213.50" width="14.71" height="7.50" fill="#FFD700"/>
<rect x="655.07" y="1213.50" width="14.71" height="6.50" fill="#FFD700"/>
<rect x="673.46" y="1213.50" width="14.71" height="6.50" fill="#FFD700"/>
<rect x="691.86" y="1213.50" width="14.71" height="9.40" fill="#FFD700"/>
<rect x="710.25" y="1213.50" width="14.71" height="4.60" fill="#FFD700"/>
<rect x="728.64" y="1213.50" width="14.71" height="7.90" fill="#FFD700"/>
<rect x="747.03" y="1213.50" width="14.71" height="4.60" fill="#FFD700"/>
<rect x="802.21" y="1213.50" width="14.71" height="1.80" fill="#FFD700"/>
<rect x="1059.71" y="1213.50" width="14.71" height="3.60" fill="#FFD700"/>
<rect x="1078.10" y="1213.50" width="14.71" height="8.50" fill="#FFD700"/>
<rect x="1096.49" y="1213.50" width="14.71" height="1.80" fill="#FFD700"/>
<rect x="1114.88" y="1213.50" width="14.71" height="6.50" fill="#FFD700"/>
<rect x="1133.28" y="1213.50" width="14.71" height="7.50" fill="#FFD700"/>
<rect x="1151.67" y="1213.50" width="14.71" height="8.50" fill="#FFD700"/>
<rect x="1170.06" y="1213.50" width="14.71" height="8.50" fill="#FFD700"/>
<rect x="1188.45" y="1213.50" width="14.71" height="10.80" fill="#FFD700"/>
</g>
<g stroke="#000" stroke-width="2" fill="none" shape-rendering="crispEdges">
<rect x="239" y="370" width="1784" height="1012"/>
<line x1="312.97" y1="370" x2="312.97" y2="397"/>
<line x1="312.97" y1="1382" x2="312.97" y2="1355"/>
<line x1="386.54" y1="370" x2="386.54" y2="397"/>
<line x1="386.54" y1="1382" x2="386.54" y2="1355"/>
<line x1="460.11" y1="370" x2="460.11" y2="397"/>
<line x1="460.11" y1="1382" x2="460.11" y2="1355"/>
<line x1="533.68" y1="370" x2="533.68" y2="397"/>
<line x1="533.68" y1="1382" x2="533.68" y2="1355"/>
<line x1="607.25" y1="370" x2="607.25" y2="397"/>
<line x1="607.25" y1="1382" x2="607.25" y2="1355"/>
<line x1="680.82" y1="370" x2="680.82" y2="397"/>
<line x1="680.82" y1="1382" x2="680.82" y2="1355"/>
<line x1="754.39" y1="370" x2="754.39" y2="397"/>
<line x1="754.39" y1="1382" x2="754.39" y2="1355"/>
<line x1="827.96" y1="370" x2="827.96" y2="397"/>
<line x1="827.96" y1="1382" x2="827.96" y2="1355"/>
<line x1="901.53" y1="370" x2="901.53" y2="397"/>
<line x1="901.53" y1="1382" x2="901.53" y2="1355"/>
<line x1="975.10" y1="370" x2="975.10" y2="397"/>
<line x1="975.10" y1="1382" x2="975.10" y2="1355"/>
<line x1="1048.67" y1="370" x2="1048.67" y2="397"/>
<line x1="1048.67" y1="1382" x2="1048.67" y2="1355"/>
<line x1="1122.24" y1="370" x2="1122.24" y2="397"/>
<line x1="1122.24" y1="1382" x2="1122.24" y2="1355"/>
<line x1="1195.81" y1="370" x2="1195.81" y2="397"/>
<line x1="1195.81" y1="1382" x2="1195.81" y2="1355"/>
<line x1="1269.38" y1="370" x2="1269.38" y2="397"/>
<line x1="1269.38" y1="1382" x2="1269.38" y2="1355"/>
<line x1="1342.95" y1="370" x2="1342.95" y2="397"/>
<line x1="1342.95" y1="1382" x2="1342.95" y2="1355"/>
<line x1="1416.52" y1="370" x2="1416.52" y2="397"/>
<line x1="1416.52" y1="1382" x2="1416.52" y2="1355"/>
<line x1="1490.09" y1="370" x2="1490.09" y2="397"/>
<line x1="1490.09" y1="1382" x2="1490.09" y2="1355"/>
<line x1="1563.66" y1="370" x2="1563.66" y2="397"/>
<line x1="1563.66" y1="1382" x2="1563.66" y2="1355"/>
<line x1="1637.23" y1="370" x2="1637.23" y2="397"/>
<line x1="1637.23" y1="1382" x2="1637.23" y2="1355"/>
<line x1="1710.80" y1="370" x2="1710.80" y2="397"/>
<line x1="1710.80" y1="1382" x2="1710.80" y2="1355"/>
<line x1="1784.37" y1="370" x2="1784.37" y2="397"/>
<line x1="1784.37" y1="1382" x2="1784.37" y2="1355"/>
<line x1="1857.94" y1="370" x2="1857.94" y2="397"/>
<line x1="1857.94" y1="1382" x2="1857.94" y2="1355"/>
<line x1="1931.51" y1="370" x2="1931.51" y2="397"/>
<line x1="1931.51" y1="1382" x2="1931.51" y2="1355"/>
<line x1="2005.08" y1="370" x2="2005.08" y2="397"/>
<line x1="2005.08" y1="1382" x2="2005.08" y2="1355"/>
<line x1="239" y1="370.00" x2="257" y2="370.00"/>
<line x1="2023" y1="370.00" x2="2005" y2="370.00"/>
<line x1="239" y1="539.00" x2="257" y2="539.00"/>
<line x1="2023" y1="539.00" x2="2005" y2="539.00"/>
<line x1="239" y1="707.00" x2="257" y2="707.00"/>
<line x1="2023" y1="707.00" x2="2005" y2="707.00"/>
<line x1="239" y1="876.00" x2="257" y2="876.00"/>
<line x1="2023" y1="876.00" x2="2005" y2="876.00"/>
<line x1="239" y1="1044.00" x2="257" y2="1044.00"/>
<line x1="2023" y1="1044.00" x2="2005" y2="1044.00"/>
<line x1="239" y1="1213.00" x2="257" y2="1213.00"/>
<line x1="2023" y1="1213.00" x2="2005" y2="1213.00"/>
<line x1="239" y1="1382.00" x2="257" y2="1382.00"/>
<line x1="2023" y1="1382.00" x2="2005" y2="1382.00"/>
</g>
<g stroke="#000" stroke-width="2" shape-rendering="crispEdges">
<rect x="239.05" y="31" width="134.9" height="45.8" fill="#FFD700"/>
<rect x="239.05" y="134" width="134.9" height="45.8" fill="#B4009E"/>
<rect x="239.05" y="241.3" width="138.95" height="46.6" fill="#808080"/>
<rect x="1271" y="31" width="138.8" height="45.8" fill="#026345"/>
<rect x="1271" y="134" width="138" height="46.8" fill="#E6E6E6"/>
<rect x="1668.1" y="134" width="127.8" height="45.8" fill="#FFFF00"/>
<rect x="1271" y="241.3" width="138.8" height="46.4" fill="#EE978F"/>
<rect x="238" y="242" width="141" height="1" fill="#000" stroke="none"/>
<rect x="1270" y="242" width="141" height="1" fill="#000" stroke="none"/>
</g>
<defs><filter id="al" x="-5%" y="-20%" width="110%" height="140%" color-interpolation-filters="sRGB"><feComponentTransfer><feFuncA type="discrete" tableValues="0 1"/></feComponentTransfer></filter></defs>
<g filter="url(#al)">
<text transform="translate(431.93,75.80) scale(0.9743,1)" font-size="73" fill="#000">Energy storage charging</text>
<text transform="translate(434.83,182.80) scale(0.9763,1)" font-size="73" fill="#000">Energy storage discharge</text>
<text transform="translate(430.61,291.20) scale(0.9768,1)" font-size="73" fill="#000">Conventional power units</text>
<text transform="translate(1456.83,75.80) scale(0.9763,1)" font-size="73" fill="#000">PDR</text>
<text transform="translate(1452.70,182.80) scale(0.9686,1)" font-size="73" fill="#000">IDRA</text>
<text transform="translate(1813.59,182.80) scale(0.9718,1)" font-size="73" fill="#000">IDRB</text>
<text transform="translate(1459.10,291.10) scale(0.9825,1)" font-size="73" fill="#000">Wind power</text>
<text transform="translate(87.99,401.26) scale(0.9641,1)" font-size="74" fill="#404040">1000</text>
<text transform="translate(105.56,567.16) scale(0.9724,1)" font-size="74" fill="#404040">800</text>
<text transform="translate(104.69,735.16) scale(0.9620,1)" font-size="74" fill="#404040">600</text>
<text transform="translate(107.11,902.26) scale(0.9599,1)" font-size="74" fill="#404040">400</text>
<text transform="translate(104.08,1069.26) scale(0.9880,1)" font-size="74" fill="#404040">200</text>
<text transform="translate(140.16,1237.06) scale(0.9889,1)" font-size="74" fill="#404040">0</text>
<text transform="translate(104.20,1405.86) scale(0.9785,1)" font-size="74" fill="#404040">200</text>
<text transform="translate(35.83,1401.33) scale(1.6129,0.8947)" font-size="74" fill="#404040">&#8722;</text>
<text transform="translate(221.16,1471.10) scale(0.9889,1)" font-size="74" fill="#404040">0</text>
<text transform="translate(440.40,1471.10) scale(0.9742,1)" font-size="74" fill="#404040">3</text>
<text transform="translate(663.48,1471.10) scale(0.9644,1)" font-size="74" fill="#404040">6</text>
<text transform="translate(883.52,1471.10) scale(0.9730,1)" font-size="74" fill="#404040">9</text>
<text transform="translate(1088.03,1471.10) scale(0.9748,1)" font-size="74" fill="#404040">12</text>
<text transform="translate(1312.19,1471.10) scale(0.9650,1)" font-size="74" fill="#404040">15</text>
<text transform="translate(1531.92,1471.10) scale(0.9760,1)" font-size="74" fill="#404040">18</text>
<text transform="translate(1750.08,1471.10) scale(0.9519,1)" font-size="74" fill="#404040">21</text>
<text transform="translate(1975.16,1471.10) scale(0.9592,1)" font-size="74" fill="#404040">24</text>
<text transform="translate(1013.74,1532.80) scale(0.9739,1)" font-size="72.8" fill="#404040">Time/T</text>
<text transform="translate(81.5,1095.13) rotate(-90) scale(0.9695,1)" font-size="91.5" fill="#404040">Power/MW</text>
</g>
</svg>
</body></html>
